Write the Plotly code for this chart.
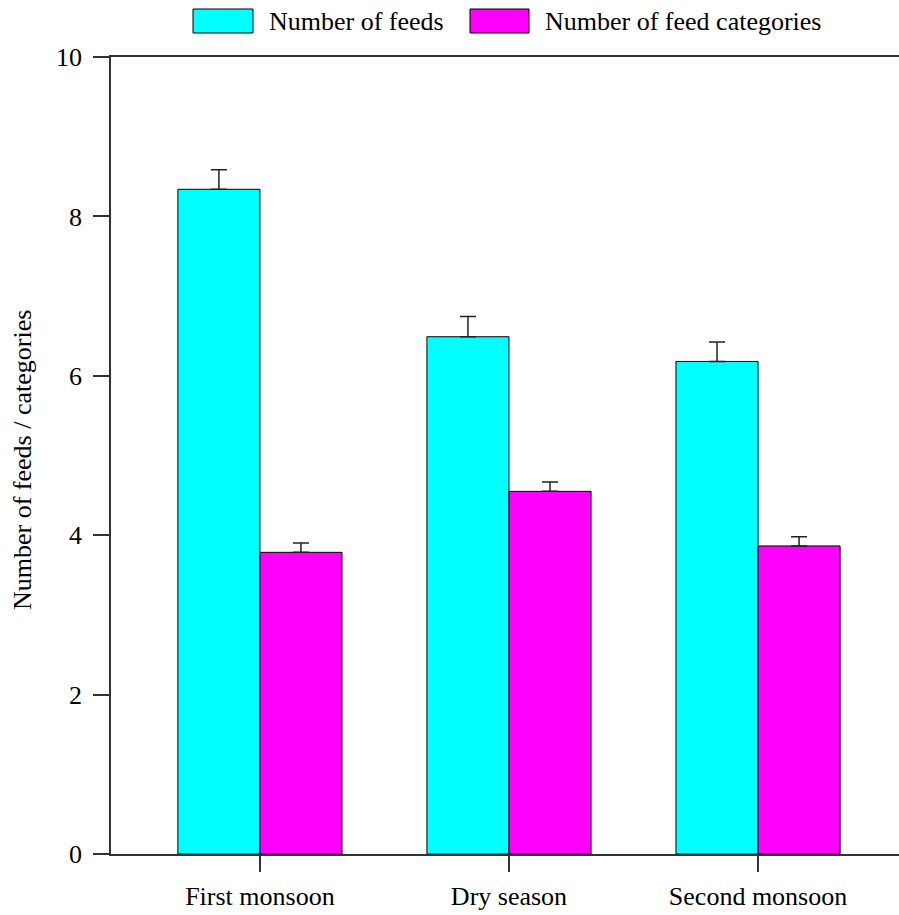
import plotly.graph_objects as go

# Mean number of feeds and feed categories per season, with standard errors
seasons = ["First monsoon", "Dry season", "Second monsoon"]
feeds = [8.34, 6.49, 6.18]
feeds_se = [0.245, 0.255, 0.245]
categories = [3.785, 4.55, 3.865]
categories_se = [0.117, 0.117, 0.117]
y_ticks = [0, 2, 4, 6, 8, 10]

FONT = "Liberation Serif, Times New Roman, serif"
W, H = 899, 915
L, R, T, B = 111, 0, 57, 61
x_idx = list(range(len(seasons)))

fig = go.Figure()
fig.add_trace(go.Bar(
    x=x_idx, y=feeds, name="Number of feeds",
    marker=dict(color="#00FFFF", line=dict(color="black", width=1)),
    error_y=dict(type="data", symmetric=False, array=feeds_se,
                 arrayminus=[0] * len(feeds), color="#222222",
                 thickness=1.5, width=8),
    showlegend=False,
))
fig.add_trace(go.Bar(
    x=x_idx, y=categories, name="Number of feed categories",
    marker=dict(color="#FF00FF", line=dict(color="black", width=1)),
    error_y=dict(type="data", symmetric=False, array=categories_se,
                 arrayminus=[0] * len(categories), color="#222222",
                 thickness=1.5, width=8),
    showlegend=False,
))

pw = W - L - R
ph = H - T - B


def px_x(p):
    return (p - L) / pw


def px_y(p):
    return (H - B - p) / ph


# Legend drawn as outlined swatches with labels above the plot
legend_items = [("Number of feeds", "#00FFFF", 193, 253),
                ("Number of feed categories", "#FF00FF", 470, 529)]
shapes = []
annotations = []
for label, color, x0, x1 in legend_items:
    shapes.append(dict(type="rect", xref="paper", yref="paper",
                       x0=px_x(x0), x1=px_x(x1), y0=px_y(33), y1=px_y(9),
                       fillcolor=color, line=dict(color="black", width=1)))
    annotations.append(dict(text=label, xref="paper", yref="paper",
                            x=px_x(x1 + 14), y=px_y(21), xanchor="left",
                            yanchor="middle", showarrow=False,
                            font=dict(family=FONT, size=26, color="black")))

annotations.append(dict(text="Number of feeds / categories", xref="paper",
                        yref="paper", x=px_x(22), y=px_y(460), textangle=-90,
                        xanchor="center", yanchor="middle", showarrow=False,
                        font=dict(family=FONT, size=26, color="black")))

fig.update_layout(
    width=W, height=H,
    margin=dict(l=L, r=R, t=T, b=B, pad=0),
    paper_bgcolor="white", plot_bgcolor="white",
    barmode="group", bargap=0.341, bargroupgap=0,
    font=dict(family=FONT, size=26, color="black"),
    shapes=shapes, annotations=annotations,
    xaxis=dict(
        tickmode="array", tickvals=x_idx, ticktext=seasons,
        range=[-0.598, 2.566], showgrid=False, zeroline=False,
        showline=True, linecolor="#333333", linewidth=1.5, mirror=True,
        ticks="outside", ticklen=16, tickcolor="#333333", tickwidth=1.5,
        ticklabelstandoff=2,
        tickfont=dict(family=FONT, size=26, color="black"),
    ),
    yaxis=dict(
        range=[0, 10], tickvals=y_ticks, showgrid=False, zeroline=False,
        showline=True, linecolor="#333333", linewidth=1.5,
        ticks="outside", ticklen=16, tickcolor="#333333", tickwidth=1.5,
        ticklabelstandoff=6,
        tickfont=dict(family=FONT, size=26, color="black"),
    ),
)

fig.write_html("out.html")
